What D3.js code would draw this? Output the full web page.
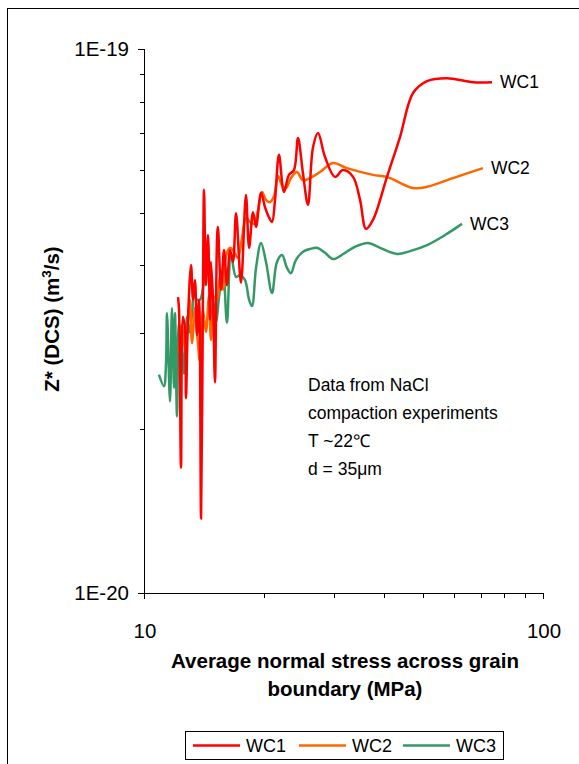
<!DOCTYPE html>
<html>
<head>
<meta charset="utf-8">
<script src="https://cdn.jsdelivr.net/npm/d3@7"></script>
<style>
  html, body { margin: 0; padding: 0; background: #fff; }
  svg { display: block; font-family: "Liberation Sans", Arial, sans-serif; }
</style>
</head>
<body>
<svg id="chart" width="579" height="764"></svg>
<script>
// Z* values are given in units of 1e-20 m^3/s
const Z_UNIT = 1e-20;

// WC1
const stressWC1 = [12.17, 12.24, 12.38, 12.52, 12.67, 12.74, 12.89, 13.12, 13.27, 13.42, 13.58, 13.74, 13.90, 14.06, 14.14,
  14.30, 14.47, 14.64, 14.72, 14.89, 15.06, 15.24, 15.32, 15.60, 15.87, 16.14, 16.43, 16.71, 17.01, 17.50,
  18.01, 18.34, 18.76, 19.09, 19.65, 20.10, 20.45, 20.93, 21.30, 21.79, 22.43, 23.08, 23.76, 24.32, 25.02,
  25.76, 26.52, 27.30, 28.42, 30.11, 31.53, 33.41, 34.79, 36.01, 37.49, 40.64, 43.81, 47.24, 51.21, 57.46,
  66.76, 74.50];
const zWC1 = [3.50, 3.31, 1.70, 3.22, 3.04, 2.28, 3.20, 4.01, 3.46, 3.76, 2.98, 3.46, 1.37, 3.76, 5.51,
  3.68, 4.55, 3.18, 4.06, 3.46, 2.44, 4.46, 4.71, 3.61, 4.27, 3.68, 4.27, 4.06, 4.99, 3.72,
  5.39, 4.31, 5.01, 4.71, 5.44, 5.12, 4.95, 4.81, 5.28, 6.39, 5.46, 5.87, 5.99, 6.86, 5.92,
  5.17, 6.60, 7.01, 6.33, 5.82, 5.99, 5.82, 5.28, 4.67, 4.85, 5.82, 6.89, 8.30, 8.73, 8.84,
  8.69, 8.69];

// WC2
const stressWC2 = [12.24, 12.45, 12.67, 12.89, 13.04, 13.19, 13.42, 13.58, 13.82, 14.06, 14.30, 14.55, 14.72, 14.98, 15.24,
  15.51, 15.78, 16.05, 16.43, 16.81, 17.20, 17.60, 18.01, 18.44, 18.87, 19.31, 19.76, 20.22, 20.69, 21.18,
  21.67, 22.18, 22.70, 23.35, 24.17, 25.02, 26.06, 27.61, 29.77, 32.27, 37.49, 40.64, 47.24, 51.21, 59.49,
  70.72];
const zWC2 = [2.77, 3.11, 2.80, 3.15, 3.46, 2.88, 3.34, 3.01, 2.66, 3.31, 3.02, 3.52, 2.92, 3.50, 3.46,
  3.83, 3.61, 4.16, 4.31, 4.24, 4.13, 4.49, 4.89, 4.81, 4.77, 5.06, 5.46, 5.28, 5.23, 5.37,
  5.84, 5.62, 5.55, 5.79, 5.94, 5.74, 5.79, 5.94, 6.17, 6.04, 5.87, 5.82, 5.55, 5.58, 5.79,
  6.04];

// WC3
const stressWC3 = [10.90, 11.22, 11.35, 11.42, 11.62, 11.75, 11.89, 11.96, 12.10, 12.24, 12.45, 12.60, 12.82, 12.97, 13.19,
  13.35, 13.58, 13.82, 14.14, 14.39, 14.81, 15.15, 15.42, 15.78, 16.14, 16.52, 17.01, 17.40, 17.91, 18.34,
  18.65, 19.09, 19.65, 20.22, 20.93, 21.54, 22.18, 22.82, 23.35, 23.90, 24.32, 25.18, 26.06, 27.14, 28.42,
  29.77, 31.90, 33.80, 36.43, 39.04, 43.06, 46.42, 51.21, 56.80, 62.66];
const zWC3 = [2.52, 2.40, 2.62, 3.27, 2.25, 3.34, 2.38, 3.27, 2.11, 3.15, 2.86, 2.53, 3.22, 3.01, 3.24,
  3.53, 3.46, 3.46, 3.73, 3.93, 3.61, 3.15, 3.50, 3.94, 3.14, 4.18, 3.81, 3.84, 3.76, 3.46,
  3.37, 3.96, 4.40, 4.06, 3.56, 4.06, 4.18, 3.96, 3.87, 4.06, 4.15, 4.25, 4.29, 4.31, 4.22,
  4.11, 4.22, 4.33, 4.40, 4.31, 4.20, 4.25, 4.36, 4.55, 4.77];

const seriesNames = ["WC1", "WC2", "WC3"];
const seriesColors = ["#ff0000", "#ff6600", "#339966"];

const xTickValues = [10, 100];
const xTickLabels = ["10", "100"];
const yTickValues = [1e-20, 1e-19];
const yTickLabels = ["1E-20", "1E-19"];

const noteLines = ["Data from NaCl", "compaction experiments", "T ~22\u2103", "d = 35\u03bcm"];

const svg = d3.select("#chart");

// outer chart frame
svg.append("rect")
  .attr("x", 7.5).attr("y", 8.5)
  .attr("width", 620).attr("height", 800)
  .attr("fill", "none").attr("stroke", "#000").attr("stroke-width", 1);

const x = d3.scaleLog().domain([10, 100]).range([144, 543]);
const y = d3.scaleLog().domain([1e-20, 1e-19]).range([593, 49]);

// minor ticks
const minorX = d3.range(2, 10).map(k => k * 10);
const minorY = d3.range(2, 10).map(k => k * 1e-20);

const axisG = svg.append("g").attr("stroke", "#000").attr("stroke-width", 1).attr("shape-rendering", "crispEdges");
axisG.append("line").attr("x1", x(10)).attr("x2", x(100)).attr("y1", y(1e-20) + 0.5).attr("y2", y(1e-20) + 0.5);
axisG.append("line").attr("x1", x(10) + 0.5).attr("x2", x(10) + 0.5).attr("y1", y(1e-19)).attr("y2", y(1e-20));
minorX.forEach(v => {
  axisG.append("line").attr("x1", Math.round(x(v)) + 0.5).attr("x2", Math.round(x(v)) + 0.5)
    .attr("y1", y(1e-20)).attr("y2", y(1e-20) + 5);
});
xTickValues.forEach(v => {
  axisG.append("line").attr("x1", Math.round(x(v)) + 0.5).attr("x2", Math.round(x(v)) + 0.5)
    .attr("y1", y(1e-20)).attr("y2", y(1e-20) + 6);
});
minorY.forEach(v => {
  axisG.append("line").attr("x1", x(10) - 4).attr("x2", x(10))
    .attr("y1", Math.round(y(v)) + 0.5).attr("y2", Math.round(y(v)) + 0.5);
});
yTickValues.forEach(v => {
  axisG.append("line").attr("x1", x(10) - 6).attr("x2", x(10))
    .attr("y1", Math.round(y(v)) + 0.5).attr("y2", Math.round(y(v)) + 0.5);
});

// tick labels
svg.append("g").selectAll("text").data(xTickValues).join("text")
  .attr("x", d => x(d) + 1).attr("y", y(1e-20) + 45)
  .attr("text-anchor", "middle").attr("font-size", 20.5)
  .text((d, i) => xTickLabels[i]);
svg.append("g").selectAll("text").data(yTickValues).join("text")
  .attr("x", x(10) - 15).attr("y", d => y(d) + 7)
  .attr("text-anchor", "end").attr("font-size", 20.5)
  .text((d, i) => yTickLabels[i]);

// axis titles
const xt = svg.append("text").attr("text-anchor", "middle").attr("font-weight", "bold").attr("font-size", 20.5);
xt.append("tspan").attr("x", 345).attr("y", 668).text("Average normal stress across grain");
xt.append("tspan").attr("x", 345).attr("y", 696).text("boundary (MPa)");

const yt = svg.append("text").attr("text-anchor", "middle").attr("font-weight", "bold").attr("font-size", 20.5)
  .attr("transform", "translate(59,319) rotate(-90)");
yt.append("tspan").text("Z* (DCS) (m");
yt.append("tspan").attr("font-size", 13.5).attr("dy", -8).text("3");
yt.append("tspan").attr("dy", 8).text("/s)");

// series
const seriesData = [
  stressWC1.map((s, i) => [s, zWC1[i] * Z_UNIT]),
  stressWC2.map((s, i) => [s, zWC2[i] * Z_UNIT]),
  stressWC3.map((s, i) => [s, zWC3[i] * Z_UNIT])
];
const line = d3.line()
  .x(d => x(d[0])).y(d => y(d[1]))
  .curve(d3.curveCatmullRom.alpha(0.5));

// draw WC3 first so WC1 sits on top where the traces overlap
[2, 1, 0].forEach(i => {
  svg.append("path").datum(seriesData[i])
    .attr("d", line)
    .attr("fill", "none")
    .attr("stroke", seriesColors[i])
    .attr("stroke-width", 2.5)
    .attr("stroke-linejoin", "round");
});

// end labels
seriesData.forEach((data, i) => {
  const last = data[data.length - 1];
  svg.append("text")
    .attr("x", x(last[0]) + 8).attr("y", y(last[1]) + 6)
    .attr("font-size", 17.5)
    .text(seriesNames[i]);
});

// note
const note = svg.append("text").attr("font-size", 17.5);
noteLines.forEach((t, i) => {
  note.append("tspan").attr("x", 308).attr("y", 391 + i * 28).text(t);
});

// legend
const lg = svg.append("g");
lg.append("rect").attr("x", 185.5).attr("y", 731.5).attr("width", 318).attr("height", 28)
  .attr("fill", "#fff").attr("stroke", "#000").attr("stroke-width", 1);
const legendX = [193, 299, 403];
seriesNames.forEach((n, i) => {
  lg.append("line").attr("x1", legendX[i]).attr("x2", legendX[i] + 47)
    .attr("y1", 745.5).attr("y2", 745.5)
    .attr("stroke", seriesColors[i]).attr("stroke-width", 2.5);
  lg.append("text").attr("x", legendX[i] + 53).attr("y", 751.5)
    .attr("font-size", 18).text(n);
});
</script>
</body>
</html>
